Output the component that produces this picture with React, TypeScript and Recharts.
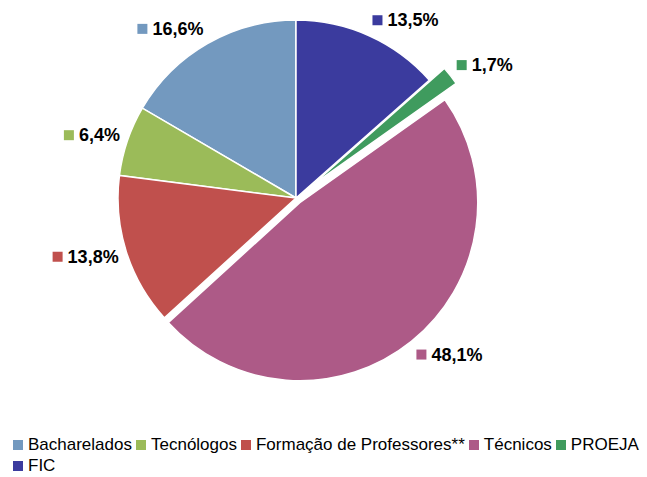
import { PieChart, Pie, Cell, Legend } from "recharts";

const categories = ["Bacharelados", "Tecnólogos", "Formação de Professores**", "Técnicos", "PROEJA", "FIC"];
const shares = [16.6, 6.4, 13.8, 48.1, 1.7, 13.5];
const shareLabels = ["16,6%", "6,4%", "13,8%", "48,1%", "1,7%", "13,5%"];
const colors = ["#7399bf", "#9bbb59", "#c0504d", "#ad5a87", "#3f9b5e", "#3b3b9e"];
// distance each slice is pulled out of the pie
const explode = [0, 0, 0, 6, 19, 0];

const W = 647;
const H = 477;
const CX = 296;
const CY = 198;
const R = 178;
const RAD = Math.PI / 180;

const data = categories.map((name, i) => ({ name, value: shares[i], label: shareLabels[i] }));
const total = shares.reduce((a, b) => a + b, 0);

// mid angle (recharts convention: ccw from 3 o'clock), pie starts at 12 o'clock going ccw
const midAngles = shares.map((v, i) => {
  const before = shares.slice(0, i).reduce((a, b) => a + b, 0);
  return 90 + (360 * (before + v / 2)) / total;
});

const CHAR_W: Record<string, number> = { ",": 0.278, "%": 0.889 };
const textWidth = (s: string, size: number) =>
  s.split("").reduce((w, c) => w + (CHAR_W[c] ?? 0.556) * size, 0);

const FONT = "'Liberation Sans', Arial, sans-serif";

function makeLabel(visible: (i: number) => boolean) {
  return (props: any) => {
    const { cx, cy, midAngle, index } = props;
    if (!visible(index)) return null;
    const cos = Math.cos(-midAngle * RAD);
    const sin = Math.sin(-midAngle * RAD);
    const px = cx + (R + 8) * cos;
    const py = cy + (R + 17) * sin;
    const txt = shareLabels[index];
    const tw = textWidth(txt, 18);
    const left = cos >= 0 ? px : px - tw - 15;
    return (
      <g key={`lbl-${index}`}>
        <rect x={left} y={py - 5} width={10} height={10} fill={colors[index]} />
        <text
          x={left + 15}
          y={py}
          dominantBaseline="central"
          fontFamily={FONT}
          fontSize={18}
          fontWeight="bold"
          fill="#000"
        >
          {txt}
        </text>
      </g>
    );
  };
}

const exploded = explode.map((e, i) => (e > 0 ? i : -1)).filter((i) => i >= 0);

function LegendBox() {
  return (
    <div
      style={{
        display: "flex",
        flexWrap: "wrap",
        width: W - 13,
        paddingLeft: 13,
        fontFamily: FONT,
        fontSize: 17,
        lineHeight: "21px",
        color: "#000",
      }}
    >
      {categories.map((c, i) => (
        <span key={c} style={{ display: "inline-flex", alignItems: "center", marginRight: 4, whiteSpace: "nowrap" }}>
          <span style={{ display: "inline-block", width: 10, height: 10, background: colors[i], marginRight: 5 }} />
          {c}
        </span>
      ))}
    </div>
  );
}

export default function App() {
  return (
    <div style={{ position: "absolute", left: 0, top: 0, width: W, height: H, background: "#fff" }}>
      <PieChart width={W} height={H} margin={{ top: 0, right: 0, bottom: 0, left: 0 }}>
        <Pie
          data={data}
          dataKey="value"
          nameKey="name"
          cx={CX}
          cy={CY}
          outerRadius={R}
          startAngle={90}
          endAngle={450}
          stroke="#fff"
          strokeWidth={1.5}
          labelLine={false}
          label={makeLabel((i) => explode[i] === 0)}
          isAnimationActive={false}
        >
          {data.map((d, i) => (
            <Cell key={d.name} fill={explode[i] === 0 ? colors[i] : "transparent"} stroke={explode[i] === 0 ? "#fff" : "none"} />
          ))}
        </Pie>
        {exploded.map((k) => {
          const dx = explode[k] * Math.cos(midAngles[k] * RAD);
          const dy = -explode[k] * Math.sin(midAngles[k] * RAD);
          return (
            <Pie
              key={`ex-${k}`}
              data={data}
              dataKey="value"
              nameKey="name"
              cx={CX + dx}
              cy={CY + dy}
              outerRadius={R}
              startAngle={90}
              endAngle={450}
              strokeWidth={1.5}
              labelLine={false}
              label={makeLabel((i) => i === k)}
              isAnimationActive={false}
            >
              {data.map((d, i) => (
                <Cell key={d.name} fill={i === k ? colors[i] : "transparent"} stroke={i === k ? "#fff" : "none"} />
              ))}
            </Pie>
          );
        })}
        <Legend content={() => <LegendBox />} wrapperStyle={{ left: 0, top: 434, width: W }} />
      </PieChart>
    </div>
  );
}
